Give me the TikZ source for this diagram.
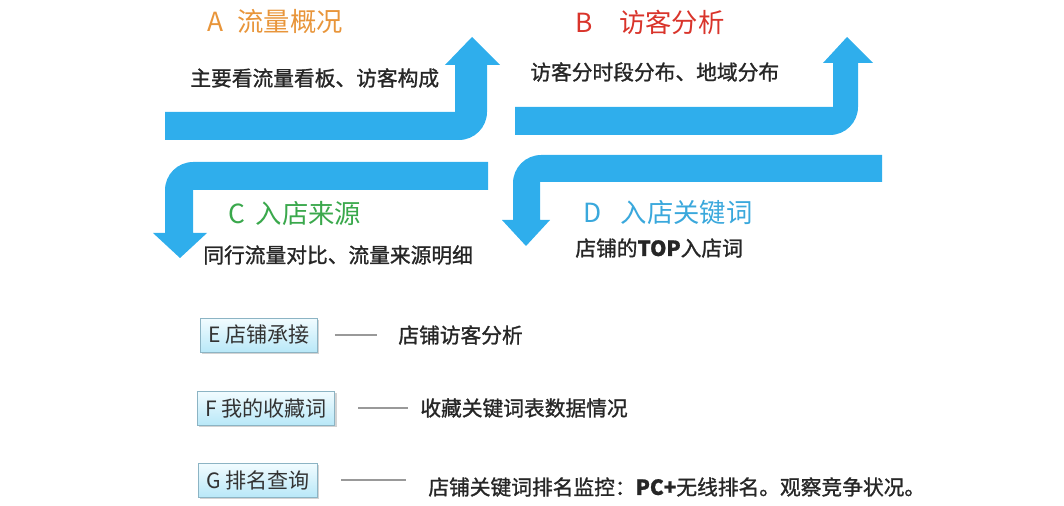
\documentclass[tikz,border=0pt]{standalone}
\usepackage{fontspec}
\usetikzlibrary{shadows}
\newfontfamily\cjk{Noto Sans CJK SC}
\newfontfamily\cjkb[FakeBold=1.2]{Noto Sans CJK SC}
\definecolor{flowblue}{RGB}{47,174,236}
\definecolor{titA}{RGB}{232,149,58}
\definecolor{titB}{RGB}{217,52,43}
\definecolor{titC}{RGB}{58,168,76}
\definecolor{titD}{RGB}{58,168,220}
\definecolor{tabtop}{RGB}{242,252,255}
\definecolor{tabbot}{RGB}{185,232,248}
\definecolor{tabline}{RGB}{140,180,196}
\tikzset{flow/.style={fill=flowblue},
  title/.style={anchor=west,inner sep=0pt,font=\cjk\fontsize{15}{18}\selectfont},
  note/.style={anchor=west,inner sep=0pt,text=black!85,font=\cjkb\fontsize{11.8}{14}\selectfont},
  tab/.style={draw=tabline,top color=tabtop,bottom color=tabbot,minimum height=.68cm,inner xsep=4.5pt,text=black!80,font=\cjk\fontsize{12}{14}\selectfont,drop shadow={shadow xshift=1pt,shadow yshift=-1.2pt,opacity=.35}},
  link/.style={draw=black!40,thick}}
\begin{document}
\begin{tikzpicture}[x=.02cm,y=-.02cm]
\useasboundingbox (0,0) rectangle (1064,506);
% four turning arrows
\fill[flow] (165,112)--(455,112)--(455,65)--(445,65)--(472,37)--(500,65)--(487,65)[rounded corners=16pt]--(487,140)[sharp corners]--(165,140)--cycle;
\fill[flow] (515,107)--(833,107)--(833,63)--(823,63)--(847,37)--(873,63)--(858,63)[rounded corners=16pt]--(858,135)[sharp corners]--(515,135)--cycle;
\fill[flow] (488,190)--(488,162)[rounded corners=16pt]--(165,162)[sharp corners]--(165,233)--(153,233)--(180,258)--(207,233)--(193,233)--(193,190)--cycle;
\fill[flow] (882,182)--(882,155)[rounded corners=16pt]--(513,155)[sharp corners]--(513,220)--(502,220)--(526,246)--(550,220)--(540,220)--(540,182)--cycle;
\node[title,text=titA] (tA) at (207,22) {A\hspace{8pt}流量概况};
\node[title,text=titB] (tB) at (575,22) {B\hspace{15pt}访客分析};
\node[title,text=titC] (tC) at (228,213) {C\hspace{6pt}入店来源};
\node[title,text=titD] (tD) at (583,213) {D\hspace{11pt}入店关键词};
\node[note] (nA) at (190,78) {主要看流量看板、访客构成};
\node[note] (nB) at (530,72) {访客分时段分布、地域分布};
\node[note] (nC) at (203,255) {同行流量对比、流量来源明细};
\node[note] (nD) at (575,248) {店铺的{\bfseries TOP}入店词};
% E F G
\node[tab] (bE) at (259,335) {E 店铺承接};
\node[tab] (bF) at (266,408) {F 我的收藏词};
\node[tab] (bG) at (258,480) {G 排名查询};
\node[note] (xE) at (398,335) {店铺访客分析};
\node[note] (xF) at (420,408) {收藏关键词表数据情况};
\node[note] (xG) at (428,487) {店铺关键词排名监控：{\bfseries PC+}无线排名。观察竞争状况。};
\draw[link,shorten <=.34cm,shorten >=.42cm] (bE.east)--(bE.east-|xE.west);
\draw[link,shorten <=.46cm,shorten >=.24cm] (bF.east)--(bF.east-|xF.west);
\draw[link,shorten <=.46cm,shorten >=.44cm] (bG.east)--(bG.east-|xG.west);
\end{tikzpicture}
\end{document}
